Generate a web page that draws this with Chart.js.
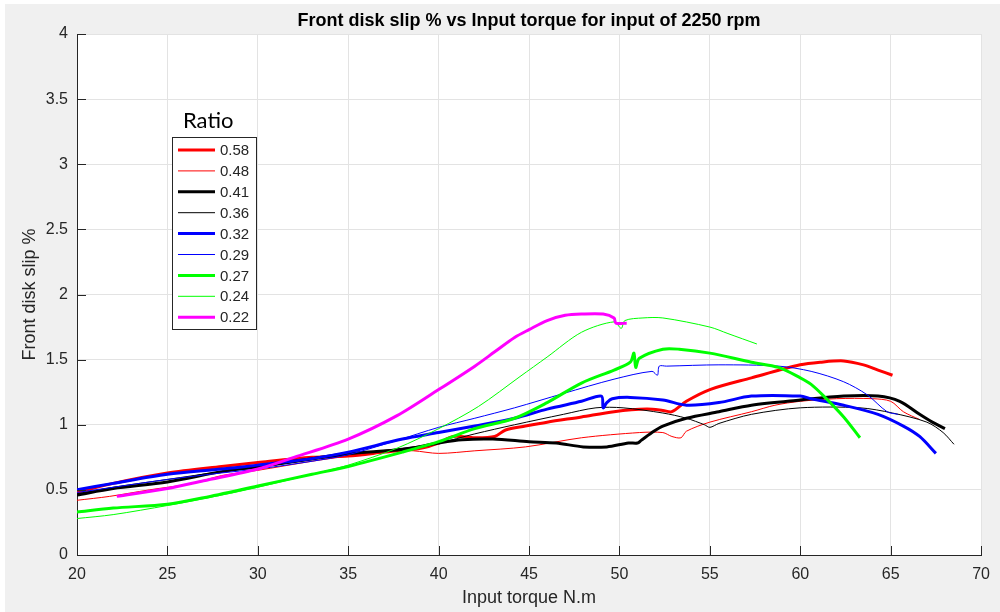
<!DOCTYPE html>
<html>
<head>
<meta charset="utf-8">
<script src="https://cdn.jsdelivr.net/npm/chart.js@4.4.1/dist/chart.umd.min.js"></script>
<style>
  html, body { margin: 0; padding: 0; background: #fff; }
  canvas { display: block; }
</style>
</head>
<body>
<canvas id="slipChart" width="1000" height="612"></canvas>
<script>
// values: [torque N.m, slip %]
const r058 = [[20,0.48],[22,0.55],[25,0.63],[28,0.68],[30,0.71],[33,0.75],[35,0.76],[37,0.79],[39,0.82],[40,0.86],[40.8,0.91],[42,0.90],[43.1,0.91],[43.7,0.96],[44.8,0.99],[46,1.02],[47.9,1.06],[49.7,1.10],[51.5,1.12],[52.4,1.11],[52.9,1.10],[53.7,1.18],[55,1.27],[57.3,1.36],[60,1.46],[61.1,1.48],[62.4,1.49],[63.5,1.46],[64.3,1.42],[65.1,1.38]];
const r048 = [[20,0.42],[21.8,0.45],[24,0.50],[26.4,0.55],[28,0.61],[30,0.65],[33,0.72],[35,0.76],[37,0.80],[38.6,0.80],[40,0.78],[42,0.80],[44.8,0.83],[47.9,0.90],[51.1,0.94],[52.4,0.94],[52.9,0.91],[53.4,0.90],[53.7,0.95],[55,1.02],[57.3,1.10],[58.6,1.15],[60,1.18],[62,1.20],[64,1.20],[65,1.18],[65.7,1.10],[66.6,1.04]];
const r041 = [[20,0.46],[22,0.51],[25,0.56],[28,0.64],[30,0.68],[33,0.74],[35,0.78],[38,0.81],[40,0.86],[41.3,0.885],[43,0.89],[45,0.87],[46.5,0.86],[48,0.83],[49.3,0.83],[50.5,0.86],[51,0.86],[51.2,0.88],[51.9,0.95],[52.4,0.99],[53.7,1.05],[55.5,1.10],[57.3,1.15],[60,1.19],[62.4,1.22],[64.3,1.22],[65.5,1.18],[66.6,1.08],[67.3,1.02],[68,0.97]];
const r036 = [[20,0.47],[22,0.52],[25,0.58],[28,0.64],[30,0.67],[33,0.73],[35,0.77],[38,0.82],[40,0.86],[42,0.93],[44.2,1.00],[46.9,1.08],[48.7,1.13],[50.2,1.13],[52.4,1.09],[53.7,1.05],[54.7,1.00],[55,0.98],[55.5,1.01],[57.3,1.08],[60,1.13],[63.3,1.13],[65.1,1.09],[67,1.02],[67.9,0.94],[68.5,0.85]];
const r032 = [[20,0.50],[22,0.55],[25,0.62],[28,0.66],[30,0.69],[33,0.74],[35,0.79],[38,0.89],[40,0.94],[42,0.99],[44.2,1.05],[46,1.12],[47.9,1.18],[49,1.22],[49.1,1.13],[49.3,1.17],[49.6,1.20],[50.6,1.21],[52.4,1.19],[53.7,1.15],[55.5,1.17],[57.3,1.22],[60,1.22],[60.6,1.20],[62.4,1.15],[64.3,1.08],[65.7,0.99],[66.6,0.91],[67.5,0.78]];
const r029 = [[20,0.48],[22,0.52],[25,0.58],[28,0.63],[30,0.66],[33,0.72],[35,0.77],[37.7,0.88],[40,0.98],[42,1.05],[44.2,1.13],[46.9,1.24],[49.7,1.35],[51.8,1.41],[52.1,1.38],[52.2,1.45],[52.6,1.45],[55.5,1.46],[58.8,1.45],[60.6,1.41],[62.4,1.33],[63.7,1.23],[64.8,1.10],[65.4,1.08]];
const r027 = [[20,0.33],[22,0.36],[25,0.39],[27,0.44],[30,0.53],[33,0.62],[35,0.68],[38,0.79],[40,0.87],[42,0.97],[44.2,1.05],[46,1.17],[47.9,1.32],[49.7,1.42],[50.6,1.48],[50.8,1.55],[50.9,1.44],[51.1,1.51],[52.4,1.58],[53.3,1.58],[55,1.55],[57.3,1.48],[58.8,1.44],[60,1.36],[60.6,1.31],[61.3,1.22],[62.4,1.06],[63.3,0.90]];
const r024 = [[20,0.28],[22,0.31],[25,0.38],[28,0.46],[30,0.52],[33,0.62],[35,0.69],[37.7,0.82],[40,0.97],[42.2,1.14],[44.5,1.37],[46,1.52],[47.9,1.71],[49.7,1.79],[50.1,1.74],[50.3,1.80],[51.3,1.82],[52.4,1.82],[55,1.75],[56,1.70],[57.6,1.62]];
const r022 = [[22.2,0.45],[25,0.51],[27,0.57],[30,0.66],[32,0.75],[35,0.89],[37.7,1.07],[40,1.27],[42,1.45],[43.1,1.56],[44.2,1.67],[45,1.73],[46,1.80],[47,1.84],[47.9,1.85],[49.1,1.85],[49.7,1.82],[49.8,1.78],[50.4,1.78]];

const ratioLabels = ['0.58', '0.48', '0.41', '0.36', '0.32', '0.29', '0.27', '0.24', '0.22'];
const seriesData = [r058, r048, r041, r036, r032, r029, r027, r024, r022];
const seriesColors = ['#ff0000', '#ff0000', '#000000', '#000000', '#0000ff', '#0000ff', '#00ff00', '#00ff00', '#ff00ff'];
const seriesWidths = [3, 1, 3, 1, 3, 1, 3, 1, 3];

const xTickLabels = ['20', '25', '30', '35', '40', '45', '50', '55', '60', '65', '70'];
const yTickLabels = ['0', '0.5', '1', '1.5', '2', '2.5', '3', '3.5', '4'];

const chartTitle = 'Front disk slip % vs Input torque for input of 2250 rpm';
const axisColor = '#262626';
const tickFont = { family: 'Liberation Sans', size: 16 };
const labelFont = { family: 'Liberation Sans', size: 18 };

// grey figure background with white axes area (MATLAB look)
const backgroundPlugin = {
  id: 'figureBackground',
  beforeDraw(chart) {
    const { ctx, width, height, chartArea } = chart;
    ctx.save();
    ctx.fillStyle = '#ffffff';
    ctx.fillRect(0, 0, width, height);
    ctx.fillStyle = '#f0f0f0';
    ctx.fillRect(5, 4, width - 5, height - 4);
    ctx.fillStyle = '#ffffff';
    ctx.fillRect(chartArea.left, chartArea.top, chartArea.right - chartArea.left, chartArea.bottom - chartArea.top);
    ctx.restore();
  }
};

// title centred over the axes, not the whole figure
const axesTitlePlugin = {
  id: 'axesTitle',
  afterDraw(chart) {
    const { ctx, chartArea } = chart;
    ctx.save();
    ctx.fillStyle = '#000';
    ctx.font = 'bold 18px "Liberation Sans"';
    ctx.textAlign = 'center';
    ctx.textBaseline = 'middle';
    ctx.fillText(chartTitle, (chartArea.left + chartArea.right) / 2, 21);
    ctx.restore();
  }
};

// inward tick marks on left and bottom axes
const tickMarkPlugin = {
  id: 'innerTicks',
  afterDatasetsDraw(chart) {
    const { ctx, chartArea, scales } = chart;
    ctx.save();
    ctx.strokeStyle = axisColor;
    ctx.lineWidth = 1;
    ctx.beginPath();
    scales.x.ticks.forEach(t => {
      const px = Math.round(scales.x.getPixelForValue(t.value)) + 0.5;
      ctx.moveTo(px, chartArea.bottom);
      ctx.lineTo(px, chartArea.bottom - 9);
    });
    scales.y.ticks.forEach(t => {
      const py = Math.round(scales.y.getPixelForValue(t.value)) + 0.5;
      ctx.moveTo(chartArea.left, py);
      ctx.lineTo(chartArea.left + 9, py);
    });
    ctx.stroke();
    ctx.restore();
  }
};

// boxed legend inside the axes with a "Ratio" caption above it
const ratioLegendPlugin = {
  id: 'ratioLegend',
  afterDraw(chart) {
    const { ctx } = chart;
    const boxX = 172, boxY = 137, boxW = 84, boxH = 192;
    const rowH = 20.9;
    ctx.save();
    ctx.fillStyle = '#000';
    ctx.font = '22px Lato';
    ctx.textBaseline = 'middle';
    ctx.textAlign = 'left';
    ctx.fillText('Ratio', 183, 121);

    ctx.fillStyle = '#ffffff';
    ctx.fillRect(boxX, boxY, boxW, boxH);
    ctx.strokeStyle = axisColor;
    ctx.lineWidth = 1;
    ctx.strokeRect(boxX + 0.5, boxY + 0.5, boxW, boxH);

    ctx.font = '15px "Liberation Sans"';
    chart.data.datasets.forEach((ds, i) => {
      const y = boxY + 13 + i * rowH;
      ctx.beginPath();
      ctx.strokeStyle = ds.borderColor;
      ctx.lineWidth = ds.borderWidth;
      ctx.moveTo(178, y);
      ctx.lineTo(215, y);
      ctx.stroke();
      ctx.fillStyle = axisColor;
      ctx.fillText(ds.label, 220, y + 1);
    });
    ctx.restore();
  }
};

const datasets = seriesData.map((rows, i) => ({
  label: ratioLabels[i],
  data: rows.map(([x, y]) => ({ x, y })),
  borderColor: seriesColors[i],
  backgroundColor: seriesColors[i],
  borderWidth: seriesWidths[i],
  pointRadius: 0,
  tension: 0.3,
  order: -i
}));

new Chart(document.getElementById('slipChart'), {
  type: 'line',
  data: { datasets },
  options: {
    responsive: false,
    animation: false,
    layout: { padding: { left: 0, right: 8, top: 34, bottom: 0 } },
    plugins: {
      legend: { display: false },
      tooltip: { enabled: false },
      title: { display: false }
    },
    scales: {
      x: {
        type: 'linear',
        min: 20,
        max: 70,
        afterFit: s => { s.height = 57; },
        ticks: {
          stepSize: 5,
          color: axisColor,
          font: tickFont,
          padding: 10,
          maxRotation: 0,
          callback: (v, i) => xTickLabels[i]
        },
        grid: { color: '#e3e3e3', drawTicks: false },
        border: { color: axisColor, width: 1 },
        title: {
          display: true,
          text: 'Input torque N.m',
          color: axisColor,
          font: labelFont,
          padding: { top: 0, bottom: 3 }
        }
      },
      y: {
        min: 0,
        max: 4,
        afterFit: s => { s.width = 77; },
        ticks: {
          stepSize: 0.5,
          color: axisColor,
          font: tickFont,
          padding: 9,
          callback: (v, i) => yTickLabels[i]
        },
        grid: { color: '#e3e3e3', drawTicks: false },
        border: { color: axisColor, width: 1 },
        title: {
          display: true,
          text: 'Front disk slip %',
          color: axisColor,
          font: labelFont,
          padding: { top: 19, bottom: 0 }
        }
      }
    }
  },
  plugins: [backgroundPlugin, tickMarkPlugin, ratioLegendPlugin, axesTitlePlugin]
});
</script>
</body>
</html>
